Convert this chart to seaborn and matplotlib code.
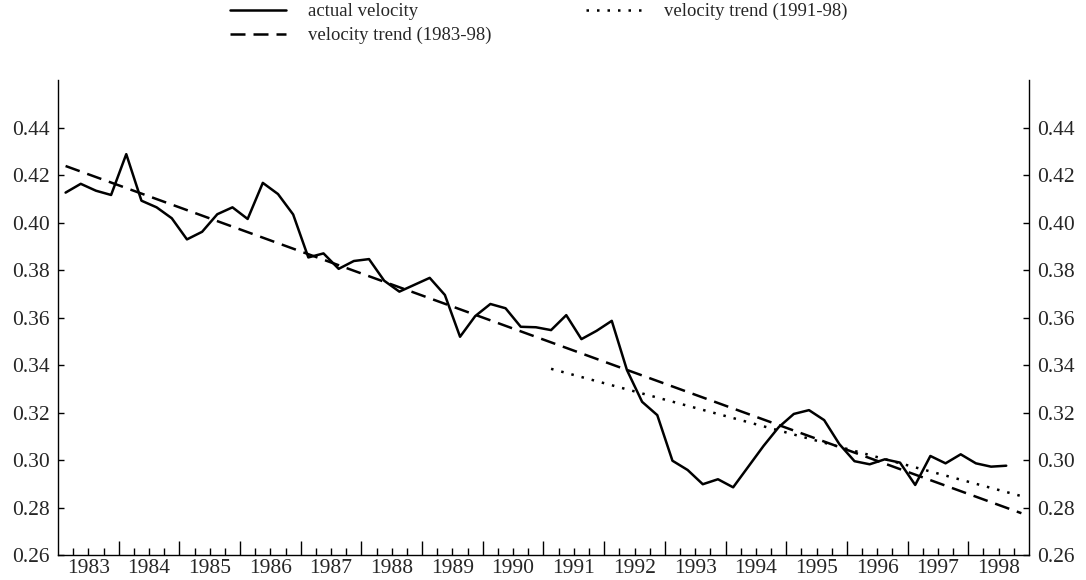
import numpy as np
import pandas as pd
import matplotlib
matplotlib.use("Agg")
import matplotlib.pyplot as plt
import seaborn as sns

# quarterly observations, 1983Q1 .. 1998Q3, plotted at quarter midpoints
start_year = 1983
n_quarters = 63
velocity = [
    0.4126, 0.4163, 0.4134, 0.4116, 0.4288, 0.4092, 0.4064, 0.4018,
    0.3929, 0.3961, 0.4035, 0.4064, 0.4015, 0.4167, 0.4120, 0.4034,
    0.3853, 0.3870, 0.3805, 0.3838, 0.3846, 0.3755, 0.3709, 0.3738,
    0.3767, 0.3695, 0.3519, 0.3606, 0.3657, 0.3639, 0.3561, 0.3559,
    0.3547, 0.3610, 0.3509, 0.3544, 0.3586, 0.3379, 0.3245, 0.3189,
    0.2997, 0.2958, 0.2898, 0.2919, 0.2885, 0.2972, 0.3059, 0.3138,
    0.3194, 0.3210, 0.3168, 0.3067, 0.2995, 0.2982, 0.3003, 0.2989,
    0.2895, 0.3017, 0.2986, 0.3024, 0.2986, 0.2972, 0.2976,
]

# trend lines (endpoints)
trend_8398_x = [1983.125, 1998.875]
trend_8398_y = [0.4238, 0.2776]
trend_9198_x = [1991.125, 1998.875]
trend_9198_y = [0.3384, 0.2848]

years = list(range(1983, 1999))
y_ticks = [0.26, 0.28, 0.30, 0.32, 0.34, 0.36, 0.38, 0.40, 0.42, 0.44]

sns.set_style("ticks")
plt.rcParams["font.family"] = ["Liberation Serif", "DejaVu Serif"]
plt.rcParams["font.size"] = 15.5

qx = start_year + 0.125 + 0.25 * np.arange(n_quarters)
df = pd.DataFrame({"date": qx, "velocity": velocity})

fig = plt.figure(figsize=(10.86, 5.8), dpi=100)
ax = fig.add_axes([0.0534, 0.0431, 0.8941, 0.8189])

sns.lineplot(data=df, x="date", y="velocity", ax=ax, color="black",
             linewidth=1.8, label="actual velocity")
sns.lineplot(x=trend_8398_x, y=trend_8398_y, ax=ax, color="black",
             linewidth=1.8, label="velocity trend (1983-98)")
sns.lineplot(x=trend_9198_x, y=trend_9198_y, ax=ax, color="black",
             linewidth=1.8, label="velocity trend (1991-98)")
lines = ax.get_lines()
lines[1].set_dashes([6.0, 3.2])
lines[2].set_dashes([1.0, 3.2])

ax.set_xlim(1983.0, 1999.0)
ax.set_ylim(0.26, 0.46)
ax.set_xlabel("")
ax.set_ylabel("")

# year boundaries as major ticks, quarters as minor, labels centred on the year
ax.set_xticks(years[1:])
ax.set_xticklabels([])
ax.set_xticks([y + q * 0.25 for y in years for q in (1, 2, 3)], minor=True)
for yr in years:
    ax.text(yr + 0.5, -0.008, str(yr), transform=ax.get_xaxis_transform(),
            ha="center", va="top", fontsize=15.5)
ax.tick_params(axis="x", which="major", direction="in", length=10, width=1,
               bottom=True, color="black")
ax.tick_params(axis="x", which="minor", direction="in", length=5, width=1,
               bottom=True, color="black")

ax.set_yticks(y_ticks)
ax.set_yticklabels([f"{v:.2f}" for v in y_ticks])
ax.tick_params(axis="y", which="major", direction="in", length=4, width=1,
               left=True, right=True, labelleft=True, labelright=True, pad=6,
               color="black", labelsize=15.5)

for side in ("left", "right", "bottom"):
    ax.spines[side].set_visible(True)
    ax.spines[side].set_color("black")
    ax.spines[side].set_linewidth(1)
ax.spines["top"].set_visible(False)

handles, labels = ax.get_legend_handles_labels()
ax.legend(handles, labels,
          loc="lower center", bbox_to_anchor=(0.495, 1.04), ncol=2,
          frameon=False, handlelength=3.0, columnspacing=5.0,
          handletextpad=1.2, labelspacing=0.35, fontsize=13.5)

fig.savefig("out.png", dpi=100)
